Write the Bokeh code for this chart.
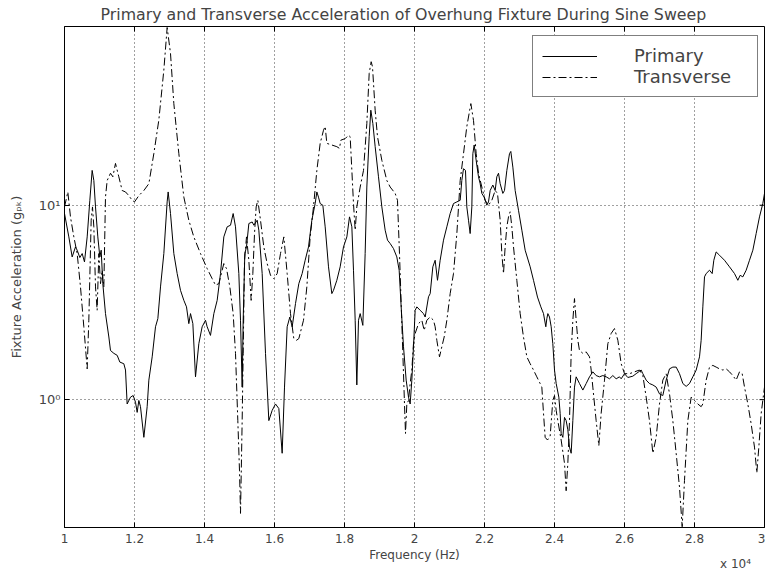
import math
from bokeh.plotting import figure
from bokeh.models import FixedTicker, Legend, LegendItem, Range1d, LinearAxis
from bokeh.embed import file_html
from bokeh.resources import INLINE

# ---------------- data ----------------
primary_freq = [
    10000, 10124, 10219, 10314, 10362, 10438, 10505, 10571, 10648, 10724, 10790, 10838,
    10886, 10952, 11010, 11048, 11095, 11171, 11267, 11314, 11410, 11505, 11581, 11695,
    11743, 11790, 11886, 11962, 12029, 12076, 12124, 12171, 12267, 12362, 12410, 12505,
    12600, 12667, 12743, 12838, 12933, 12962, 13029, 13124, 13219, 13314, 13410, 13486,
    13552, 13600, 13667, 13743, 13838, 13933, 14029, 14076, 14171, 14267, 14362, 14457,
    14552, 14648, 14743, 14819, 14886, 14981, 15029, 15076, 15105, 15152, 15200, 15267,
    15362, 15410, 15505, 15552, 15648, 15743, 15838, 15933, 16029, 16124, 16219, 16286,
    16362, 16438, 16505, 16600, 16695, 16790, 16876, 16971, 17067, 17162, 17210, 17257,
    17305, 17381, 17448, 17543, 17638, 17686, 17781, 17876, 17971, 18067, 18143, 18210,
    18257, 18305, 18352, 18400, 18448, 18524, 18590, 18638, 18705, 18752, 18810, 18876,
    18971, 19067, 19162, 19229, 19305, 19400, 19495, 19562, 19619, 19686, 19762, 19829,
    19876, 19924, 19971, 20019, 20067, 20162, 20257, 20305, 20400, 20448, 20524, 20590,
    20657, 20733, 20829, 20924, 21019, 21114, 21210, 21305, 21352, 21400, 21457, 21495,
    21543, 21590, 21638, 21667, 21705, 21762, 21829, 21876, 21924, 21990, 22067, 22114,
    22162, 22238, 22305, 22352, 22400, 22448, 22524, 22571, 22638, 22714, 22752, 22810,
    22876, 22971, 23067, 23162, 23305, 23400, 23514, 23610, 23686, 23752, 23781, 23810,
    23857, 23905, 23933, 23952, 24000, 24048, 24124, 24162, 24190, 24238, 24286, 24333,
    24381, 24429, 24476, 24524, 24571, 24619, 24714, 24810, 24905, 25000, 25095, 25190,
    25286, 25381, 25476, 25571, 25667, 25762, 25857, 25905, 26000, 26095, 26238, 26333,
    26429, 26476, 26524, 26619, 26714, 26810, 26905, 27000, 27095, 27190, 27286, 27381,
    27476, 27571, 27667, 27762, 27857, 27952, 28048, 28143, 28190, 28238, 28286, 28333,
    28429, 28505, 28552, 28619, 28714, 28857, 29000, 29143, 29238, 29305, 29381, 29476,
    29571, 29667, 29762, 29857, 29952, 30000]
primary_acc = [
    9.06, 6.87, 5.42, 6.10, 5.87, 5.38, 5.64, 5.11, 6.87, 10.6, 15.1, 13.4,
    9.8, 6.87, 5.42, 5.87, 3.95, 2.77, 2.10, 1.79, 1.73, 1.69, 1.56, 1.53,
    1.42, 0.95, 1.03, 1.05, 0.97, 0.86, 0.99, 0.92, 0.64, 0.92, 1.26, 1.66,
    2.37, 2.61, 3.80, 5.64, 10.4, 11.7, 9.06, 5.64, 4.45, 3.65, 3.24, 3.00,
    2.46, 2.77, 2.46, 1.31, 1.94, 2.37, 2.56, 2.37, 2.14, 2.77, 3.24, 4.45,
    6.87, 7.74, 7.89, 9.06, 7.74, 4.45, 2.56, 1.16, 2.56, 5.64, 6.10, 8.05,
    8.2, 7.89, 8.37, 7.44, 4.45, 1.73, 0.78, 0.88, 0.95, 0.90, 0.53, 1.16,
    2.37, 2.66, 2.37, 3.12, 3.95, 4.45, 5.21, 6.10, 8.37, 10.2, 11.7, 11.0,
    10.2, 10.0, 7.74, 4.82, 3.51, 3.65, 4.11, 4.82, 6.10, 6.87, 8.71, 7.74,
    4.63, 2.56, 1.19, 2.56, 2.77, 2.41, 5.64, 12.4, 22.5, 30.8, 26.3, 20.0,
    14.0, 9.8, 7.44, 6.61, 6.35, 5.98, 5.42, 4.63, 3.00, 1.87, 1.26, 1.03,
    0.95, 1.26, 1.87, 2.88, 3.00, 2.88, 2.77, 2.66, 3.38, 3.51, 4.82, 5.21,
    4.11, 5.21, 6.61, 7.74, 9.06, 10.2, 10.4, 10.6, 13.4, 15.4, 15.1, 9.8,
    8.37, 7.15, 9.8, 18.4, 20.4, 17.0, 14.0, 12.9, 11.5, 11.0, 10.0, 10.4,
    11.9, 12.7, 11.9, 14.0, 14.6, 12.9, 11.5, 11.9, 15.1, 18.4, 18.9, 15.7,
    11.9, 9.42, 7.44, 5.87, 4.82, 4.11, 3.37, 3.00, 2.77, 2.37, 2.61, 2.77,
    2.66, 2.37, 2.10, 1.94, 1.42, 1.21, 1.03, 0.85, 0.67, 0.64, 0.81, 0.78,
    0.70, 0.57, 0.53, 0.78, 1.16, 1.31, 1.21, 1.12, 1.21, 1.31, 1.39, 1.33,
    1.31, 1.33, 1.31, 1.28, 1.33, 1.28, 1.31, 1.28, 1.36, 1.30, 1.32, 1.36,
    1.40, 1.42, 1.36, 1.26, 1.21, 1.19, 1.16, 1.07, 1.05, 1.26, 1.44, 1.47,
    1.47, 1.36, 1.21, 1.17, 1.21, 1.31, 1.42, 1.66, 2.02, 3.00, 4.28, 4.45,
    4.63, 4.45, 5.21, 5.75, 5.53, 5.21, 4.82, 4.45, 4.11, 4.36, 4.28, 4.63,
    5.21, 5.87, 7.15, 8.71, 10.2, 11.5]

transverse_freq = [
    10000, 10095, 10171, 10267, 10362, 10457, 10552, 10648, 10695, 10762, 10800, 10838,
    10886, 10933, 10981, 11029, 11076, 11124, 11171, 11219, 11314, 11381, 11457, 11552,
    11648, 11743, 11838, 11933, 12000, 12124, 12267, 12410, 12552, 12695, 12838, 12933,
    13029, 13124, 13267, 13410, 13552, 13695, 13886, 14076, 14219, 14314, 14410, 14552,
    14629, 14724, 14819, 14886, 14952, 15000, 15029, 15076, 15105, 15143, 15200, 15267,
    15333, 15381, 15429, 15476, 15524, 15600, 15695, 15790, 15886, 15981, 16076, 16171,
    16267, 16362, 16457, 16552, 16629, 16695, 16829, 16924, 17019, 17114, 17210, 17305,
    17400, 17448, 17495, 17638, 17781, 17857, 17895, 18019, 18114, 18162, 18210, 18257,
    18305, 18352, 18448, 18543, 18638, 18705, 18762, 18800, 18876, 18943, 19067, 19210,
    19305, 19448, 19514, 19571, 19619, 19667, 19714, 19743, 19781, 19829, 19876, 19924,
    19971, 20019, 20114, 20210, 20276, 20352, 20448, 20543, 20590, 20638, 20714, 20781,
    20848, 20924, 21019, 21114, 21210, 21305, 21400, 21495, 21610, 21686, 21762, 21829,
    21924, 22019, 22114, 22210, 22305, 22371, 22448, 22495, 22543, 22590, 22638, 22686,
    22733, 22781, 22829, 22924, 23019, 23114, 23210, 23305, 23400, 23495, 23590, 23638,
    23686, 23733, 23800, 23876, 23952, 24000, 24048, 24095, 24190, 24286, 24333, 24381,
    24429, 24476, 24524, 24571, 24619, 24667, 24714, 24810, 24905, 25000, 25048, 25095,
    25190, 25267, 25333, 25429, 25524, 25619, 25714, 25810, 25905, 26000, 26143, 26286,
    26429, 26524, 26619, 26714, 26810, 26905, 27000, 27095, 27190, 27286, 27381, 27476,
    27571, 27648, 27714, 27810, 27905, 28000, 28095, 28190, 28238, 28333, 28429, 28524,
    28619, 28714, 28810, 28905, 29000, 29095, 29190, 29286, 29362, 29429, 29524, 29619,
    29714, 29781, 29838, 29905, 30000]
transverse_acc = [
    9.8, 11.7, 8.7, 6.87, 5.64, 3.80, 2.37, 1.44, 2.56, 8.37, 9.8, 7.74,
    3.80, 2.88, 5.64, 3.95, 4.63, 3.80, 11.0, 13.4, 14.6, 14.0, 16.4, 14.0,
    11.9, 11.7, 11.2, 10.6, 10.4, 11.2, 11.9, 12.9, 18.4, 27.4, 49.5, 82.0,
    60.3, 33.3, 18.4, 11.0, 8.37, 6.87, 5.64, 4.72, 4.19, 3.88, 3.95, 5.01,
    4.72, 3.80, 2.77, 1.73, 0.78, 0.43, 0.26, 0.78, 1.73, 5.21, 6.87, 5.21,
    3.24, 4.45, 7.15, 9.8, 10.6, 8.37, 6.10, 5.01, 4.36, 4.19, 4.45, 5.64,
    6.87, 4.45, 2.77, 2.06, 2.02, 2.06, 2.56, 3.80, 6.87, 9.8, 15.1, 20.8,
    24.3, 25.4, 20.8, 20.4, 20.0, 19.6, 21.6, 22.0, 22.9, 22.5, 15.1, 10.2,
    7.44, 9.8, 12.4, 15.1, 26.3, 47.6, 54.7, 51.5, 30.8, 22.5, 17.0, 13.4,
    12.4, 11.5, 10.6, 5.64, 3.12, 1.73, 0.95, 0.67, 0.95, 0.99, 1.21, 1.42,
    1.94, 2.19, 2.46, 2.56, 2.27, 2.56, 2.66, 2.56, 2.37, 2.02, 1.66, 1.87,
    2.10, 2.56, 3.51, 4.45, 7.15, 13.4, 18.4, 25.4, 33.3, 27.3, 18.4, 14.6,
    12.4, 10.6, 10.0, 10.6, 11.9, 11.5, 8.37, 5.64, 4.45, 6.10, 7.74, 8.71,
    9.25, 7.74, 6.10, 4.11, 2.77, 2.10, 1.66, 1.53, 1.42, 1.31, 1.21, 1.16,
    0.85, 0.64, 0.62, 0.65, 0.99, 1.05, 0.88, 0.78, 0.62, 0.47, 0.34, 0.47,
    0.78, 1.73, 2.56, 3.31, 2.56, 2.02, 1.79, 1.73, 1.76, 1.66, 1.42, 1.16,
    0.78, 0.58, 0.85, 1.26, 1.94, 2.19, 2.32, 2.02, 1.53, 1.36, 1.36, 1.39,
    1.42, 1.33, 1.03, 0.78, 0.53, 0.64, 0.95, 1.26, 1.36, 1.07, 0.78, 0.53,
    0.355, 0.222, 0.384, 0.78, 1.03, 0.99, 0.95, 0.92, 0.95, 1.26, 1.47, 1.50,
    1.47, 1.44, 1.42, 1.44, 1.39, 1.33, 1.26, 1.39, 1.36, 1.16, 0.95, 0.75,
    0.57, 0.42, 0.57, 0.85, 1.16]

x_ticks = [10000, 12000, 14000, 16000, 18000, 20000, 22000, 24000, 26000, 28000, 30000]
x_tick_labels = ["1", "1.2", "1.4", "1.6", "1.8", "2", "2.2", "2.4", "2.6", "2.8", "3"]
y_ticks = [1, 10]
y_tick_labels = ["10\u2070", "10\u00b9"]

title_text = "Primary and Transverse Acceleration of Overhung Fixture During Sine Sweep"
x_label = "Frequency (Hz)"
x_exponent = "x 10\u2074"
y_label = "Fixture Acceleration (g\u209a\u2096)"
series_names = ["Primary", "Transverse"]

FONT = "DejaVu Sans"
X_MIN, X_MAX = 10000, 30000
Y_MIN, Y_MAX = 0.22, 83

p = figure(width=765, height=573, y_axis_type="log",
           x_range=Range1d(X_MIN, X_MAX), y_range=Range1d(Y_MIN, Y_MAX),
           output_backend="svg", toolbar_location=None,
           min_border_left=64, min_border_right=1,
           min_border_top=26, min_border_bottom=46,
           title=title_text)

p.background_fill_color = "white"
p.border_fill_color = "white"
p.outline_line_color = "black"
p.outline_line_width = 1

p.title.text_font = FONT
p.title.text_font_size = "15.8px"
p.title.text_font_style = "normal"
p.title.align = "left"
p.title.offset = 36
p.title.standoff = 5

r1 = p.line(primary_freq, primary_acc, line_color="black", line_width=1)
r2 = p.line(transverse_freq, transverse_acc, line_color="black", line_width=1,
            line_dash="8 3 2 3")

# bottom axis
xa = p.xaxis[0]
xa.ticker = FixedTicker(ticks=x_ticks)
xa.major_label_overrides = dict(zip(x_ticks, x_tick_labels))
xa.major_label_text_font = FONT
xa.major_label_text_font_size = "12px"
xa.major_label_standoff = 6
xa.major_tick_in = 5
xa.major_tick_out = 0
xa.minor_tick_in = 0
xa.minor_tick_out = 0
xa.axis_label = x_label
xa.axis_label_text_font = FONT
xa.axis_label_text_font_size = "12px"
xa.axis_label_text_font_style = "normal"
xa.axis_label_standoff = 2
xa.axis_line_color = "black"

# exponent note under the right end of the x axis (a tick-less axis below)
exp_axis = LinearAxis(ticker=FixedTicker(ticks=[X_MAX]),
                      major_label_overrides={X_MAX: x_exponent},
                      major_label_text_align="right",
                      major_label_text_font=FONT,
                      major_label_text_font_size="12px",
                      major_label_standoff=-8,
                      major_tick_in=0, major_tick_out=0,
                      minor_tick_in=0, minor_tick_out=0,
                      major_tick_line_color=None, minor_tick_line_color=None,
                      axis_line_color=None)
p.add_layout(exp_axis, "below")

# left axis
ya = p.yaxis[0]
ya.ticker = FixedTicker(ticks=y_ticks)
ya.major_label_overrides = dict(zip(y_ticks, y_tick_labels))
ya.major_label_text_font = FONT
ya.major_label_text_font_size = "13px"
ya.major_label_standoff = 4
ya.major_tick_in = 5
ya.major_tick_out = 0
ya.minor_tick_in = 0
ya.minor_tick_out = 0
ya.axis_label = y_label
ya.axis_label_text_font = FONT
ya.axis_label_text_font_size = "13px"
ya.axis_label_text_font_style = "normal"
ya.axis_label_standoff = 12
ya.axis_line_color = "black"

# tick marks on the top and right edges of the box (5 px, pointing inward)
p.ray(x=x_ticks, y=[Y_MAX] * len(x_ticks), length=5, length_units="screen",
      angle=-math.pi / 2, line_color="black", line_width=1)
p.ray(x=[X_MAX] * len(y_ticks), y=y_ticks, length=5, length_units="screen",
      angle=math.pi, line_color="black", line_width=1)

# grids
p.xgrid.ticker = FixedTicker(ticks=x_ticks)
p.ygrid.ticker = FixedTicker(ticks=y_ticks)
for g in (p.xgrid, p.ygrid):
    g.grid_line_color = "black"
    g.grid_line_alpha = 0.75
    g.grid_line_dash = "1 3"
    g.grid_line_width = 1
p.ygrid.minor_grid_line_color = None

# legend
legend = Legend(items=[LegendItem(label=series_names[0], renderers=[r1]),
                       LegendItem(label=series_names[1], renderers=[r2])],
                location=(468, 430), orientation="vertical")
legend.label_text_font = FONT
legend.label_text_font_size = "18px"
legend.glyph_width = 55
legend.glyph_height = 20
legend.label_height = 20
legend.label_standoff = 37
legend.label_width = 114
legend.spacing = 0
legend.padding = 9
legend.margin = 0
legend.border_line_color = "black"
legend.border_line_width = 1
legend.background_fill_color = "white"
legend.background_fill_alpha = 1
p.add_layout(legend, "center")

open("out.html", "w").write(file_html(p, INLINE))
